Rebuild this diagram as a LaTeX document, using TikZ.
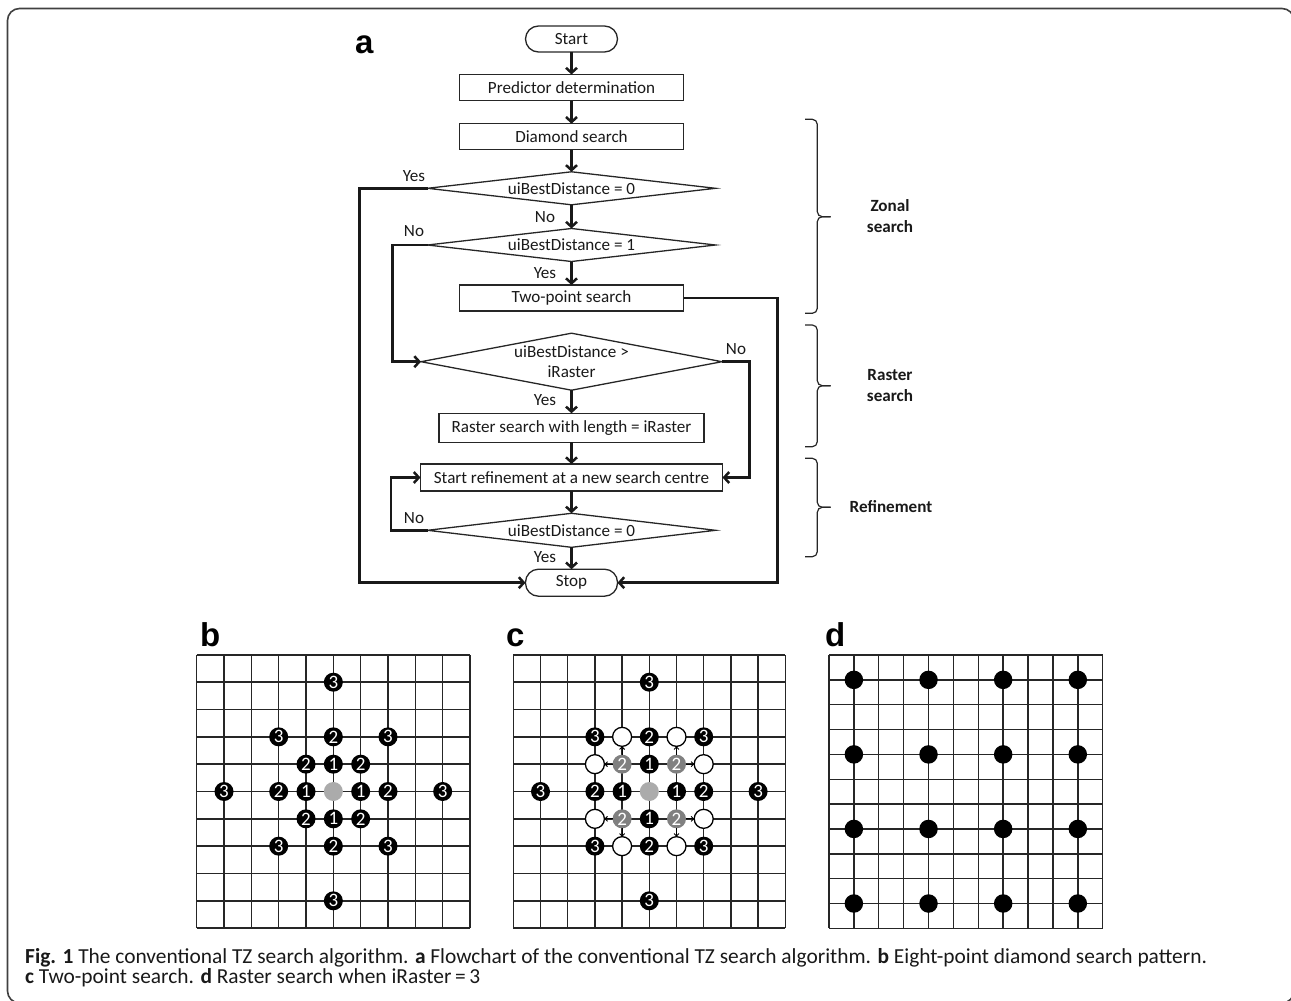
\documentclass[tikz,border=0pt]{standalone}
\usepackage{fontspec}
\setmainfont{Carlito}
\newfontfamily\panelfont{Liberation Sans}
\usetikzlibrary{arrows.meta,shapes.geometric}
\newcommand\fcfont{\fontsize{17.1}{20.7}\selectfont}
\newcommand\digfont{\fontsize{19}{19}\selectfont}
\newcommand\capfont{\fontsize{21.4}{21.4}\selectfont}
\begin{document}
\begin{tikzpicture}[x=1pt,y=-1pt,
  box/.style={draw=black!85,line width=1.3pt,minimum height=26pt,inner sep=0pt,outer sep=0pt,font=\fcfont,text=black!90},
  term/.style={box,rounded corners=13pt,minimum width=92pt},
  dia/.style={diamond,draw=black!85,line width=1.3pt,inner sep=0pt,outer sep=0pt,aspect=8,minimum width=288pt,minimum height=33pt,font=\fcfont,text=black!90},
  conn/.style={line width=2.5pt,draw=black!90,-{Straight Barb[length=5pt,width=11pt]}},
  lab/.style={inner sep=0pt,font=\fcfont,text=black!90},
  blab/.style={inner sep=0pt,font=\fcfont\bfseries,align=center,text=black!90},
  bracepath/.style={line width=1.2pt,draw=black!85,rounded corners=5pt},
  panel/.style={inner sep=0pt,anchor=base west,font=\panelfont\bfseries\fontsize{33}{33}\selectfont},
  gridline/.style={line width=1.4pt,draw=black!85},
  bdot/.style={circle,fill=black,text=white,minimum size=19pt,inner sep=0pt,outer sep=0pt,font=\digfont},
  gdot/.style={circle,fill=black!33,minimum size=19pt,inner sep=0pt,outer sep=0pt},
  mdot/.style={circle,fill=black!50,text=white,minimum size=19pt,inner sep=0pt,outer sep=0pt,font=\digfont},
  odot/.style={circle,draw=black,line width=1.3pt,fill=white,minimum size=19pt,inner sep=0pt,outer sep=0pt},
  rdot/.style={circle,fill=black,minimum size=18.5pt,inner sep=0pt,outer sep=0pt},
  smallarrow/.style={line width=0.9pt,-{Straight Barb[length=2.5pt,width=5pt]}},
  captxt/.style={inner sep=0pt,anchor=base west,font=\capfont,text=black!90}]
\useasboundingbox (0,0) rectangle (1291,1001);
\begin{scope}
\clip (0,0) rectangle (1291,1001);
\draw[line width=1.6pt,draw=black!75,rounded corners=12pt] (7.5,8.5) rectangle (1294,1003);
\end{scope}

% ---------- panel a: flowchart ----------
\node[panel] (la) at (355,53) {a};
\node[term] (start) at (571.5,39) {Start};
\node[box,minimum width=224pt] (pred) at (571.5,87.5) {Predictor determination};
\node[box,minimum width=224pt] (ds) at (571.5,136.7) {Diamond search};
\node[dia] (d1) at (571.5,188.3) {uiBestDistance = 0};
\node[dia] (d2) at (571.5,245) {uiBestDistance = 1};
\node[box,minimum width=224pt] (tp) at (571.5,298) {Two-point search};
\node[dia,minimum width=301pt,minimum height=57pt,aspect=5.3,align=center] (d3) at (571.5,361.7) {uiBestDistance >\\iRaster};
\node[box,minimum width=265pt,minimum height=29pt] (rs) at (571.5,427.8) {Raster search with length = iRaster};
\node[box,minimum width=302pt,minimum height=27pt] (ref) at (571.5,477.5) {Start refinement at a new search centre};
\node[dia,minimum height=34pt] (d4) at (571.5,530.3) {uiBestDistance = 0};
\node[term,minimum height=27pt] (stop) at (571.5,582.7) {Stop};

\node[lab] (yes1) at (414,176) {Yes};
\node[lab] (no1) at (545,217) {No};
\node[lab] (no2) at (414,231) {No};
\node[lab] (yes2) at (545,273) {Yes};
\node[lab] (no3) at (736,349) {No};
\node[lab] (yes3) at (545,400) {Yes};
\node[lab] (no4) at (414,518) {No};
\node[lab] (yes4) at (545,557) {Yes};

\draw[conn] (start.south) -- (pred.north);
\draw[conn] (pred.south) -- (ds.north);
\draw[conn] (ds.south) -- (d1.north);
\draw[conn] (d1.south) -- (d2.north);
\draw[conn] (d2.south) -- (tp.north);
\draw[conn] (d3.south) -- (rs.north);
\draw[conn] (rs.south) -- (ref.north);
\draw[conn] (ref.south) -- (d4.north);
\draw[conn] (d4.south) -- (stop.north);

\coordinate (c1) at (359.5,582.7);
\coordinate (c2) at (392.5,361.7);
\coordinate (c3) at (777.7,582.7);
\coordinate (c4) at (749.3,477.5);
\coordinate (c5) at (391,477.5);
\draw[conn] (d1.west) -| (c1) -- (stop.west);
\draw[conn] (d2.west) -| (c2) -- (d3.west);
\draw[conn] (tp.east) -| (c3) -- (stop.east);
\draw[conn] (d3.east) -| (c4) -- (ref.east);
\draw[conn] (d4.west) -| (c5) -- (ref.west);

% braces
\draw[bracepath] (805,119.3) -| (817.3,216.7) -- (830.7,216.7);
\draw[bracepath] (805,313.3) -| (817.3,216.7) -- (830.7,216.7);
\draw[bracepath] (805,325) -| (817.3,385.7) -- (830.7,385.7);
\draw[bracepath] (805,446.7) -| (817.3,385.7) -- (830.7,385.7);
\draw[bracepath] (805,458.3) -| (817.3,507.3) -- (830.7,507.3);
\draw[bracepath] (805,556.7) -| (817.3,507.3) -- (830.7,507.3);
\node[blab] (zl) at (890,216) {Zonal\\search};
\node[blab] (rl) at (890,385.5) {Raster\\search};
\node[blab] (fl) at (891,507) {Refinement};

% ---------- panel b ----------
\node[panel] (lb) at (200,646.5) {b};
\begin{scope}[shift={(333.35,791.5)},x=27.33pt,y=27.33pt]
\foreach \k in {-5,...,5} {
  \draw[gridline] (\k,-5) -- (\k,5);
  \draw[gridline] (-5,\k) -- (5,\k);
}
\node[gdot] (b0) at (0,0) {};
\foreach \x/\y [count=\n] in {0/1,-1/0,1/0,0/-1}
  \node[bdot] (b1-\n) at (\x,\y) {1};
\foreach \x/\y [count=\n] in {0/2,-1/1,1/1,-2/0,2/0,-1/-1,1/-1,0/-2}
  \node[bdot] (b2-\n) at (\x,\y) {2};
\foreach \x/\y [count=\n] in {0/4,-2/2,2/2,-4/0,4/0,-2/-2,2/-2,0/-4}
  \node[bdot] (b3-\n) at (\x,\y) {3};
\end{scope}

% ---------- panel c ----------
\node[panel] (lc) at (506,646.5) {c};
\begin{scope}[shift={(649.3,791.5)},x=27.2pt,y=27.33pt]
\foreach \k in {-5,...,5} {
  \draw[gridline] (\k,-5) -- (\k,5);
  \draw[gridline] (-5,\k) -- (5,\k);
}
\node[gdot] (c0) at (0,0) {};
\foreach \x/\y [count=\n] in {0/1,-1/0,1/0,0/-1}
  \node[bdot] (c1-\n) at (\x,\y) {1};
\foreach \x/\y [count=\n] in {0/2,-2/0,2/0,0/-2}
  \node[bdot] (c2-\n) at (\x,\y) {2};
\foreach \x/\y [count=\n] in {-1/1,1/1,-1/-1,1/-1}
  \node[mdot] (cg-\n) at (\x,\y) {2};
\foreach \x/\y [count=\n] in {-1/2,1/2,-2/1,2/1,-2/-1,2/-1,-1/-2,1/-2}
  \node[odot] (co-\n) at (\x,\y) {};
\foreach \x/\y [count=\n] in {0/4,-2/2,2/2,-4/0,4/0,-2/-2,2/-2,0/-4}
  \node[bdot] (c3-\n) at (\x,\y) {3};
\draw[smallarrow] (cg-1) -- (co-1);
\draw[smallarrow] (cg-1) -- (co-3);
\draw[smallarrow] (cg-2) -- (co-2);
\draw[smallarrow] (cg-2) -- (co-4);
\draw[smallarrow] (cg-3) -- (co-5);
\draw[smallarrow] (cg-3) -- (co-7);
\draw[smallarrow] (cg-4) -- (co-6);
\draw[smallarrow] (cg-4) -- (co-8);
\end{scope}

% ---------- panel d ----------
\node[panel] (ld) at (825,646.5) {d};
\begin{scope}[shift={(829,655)},x=24.88pt,y=-24.85pt]
\foreach \k in {0,...,11} {
  \draw[gridline] (\k,0) -- (\k,11);
  \draw[gridline] (0,\k) -- (11,\k);
}
\foreach \i in {1,4,7,10}
  \foreach \j in {1,4,7,10}
    \node[rdot] (d-\i-\j) at (\i,\j) {};
\end{scope}

% ---------- caption ----------
\node[captxt] (cap1) at (25,963.5) {\textbf{Fig. 1} The conventional TZ search algorithm. \textbf{a} Flowchart of the conventional TZ search algorithm. \textbf{b} Eight-point diamond search pattern.};
\node[captxt] (cap2) at (25,983) {\textbf{c} Two-point search. \textbf{d} Raster search when iRaster\,=\,3};
\end{tikzpicture}
\end{document}
